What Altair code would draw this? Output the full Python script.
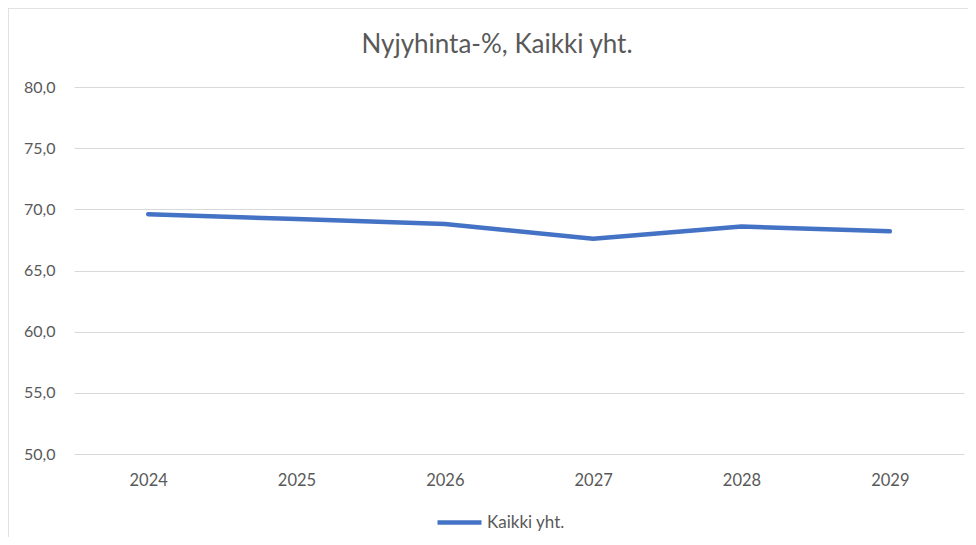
import altair as alt
import pandas as pd

years = ["2024", "2025", "2026", "2027", "2028", "2029"]
values = [69.6, 69.2, 68.8, 67.6, 68.6, 68.2]
series = ["Kaikki yht."] * len(years)
y_ticks = [50, 55, 60, 65, 70, 75, 80]
title_text = ["Nyjyhinta-%, Kaikki yht."]

df = pd.DataFrame({"vuosi": years, "arvo": values, "sarja": series})
df_title = pd.DataFrame({"teksti": title_text})

FONT = "Lato"
GREY = "#595959"

line = alt.Chart(df).mark_line(strokeWidth=4.5, strokeCap="round", strokeJoin="round").encode(
    x=alt.X("vuosi:N", sort=years, scale=alt.Scale(type="point", padding=0.5),
            axis=alt.Axis(title=None, labelAngle=0, grid=False, domain=False, ticks=False,
                          labelPadding=18, labelFontSize=16.5, labelColor=GREY, labelFont=FONT)),
    y=alt.Y("arvo:Q", scale=alt.Scale(domain=[50, 80], nice=False, zero=False),
            axis=alt.Axis(title=None, values=y_ticks, grid=True, gridColor="#d9d9d9", gridWidth=1,
                          domain=False, ticks=False, labelPadding=19, labelFontSize=16,
                          labelColor=GREY, labelFont=FONT,
                          labelExpr="replace(format(datum.value, '.1f'), '.', ',')")),
    color=alt.Color("sarja:N", scale=alt.Scale(range=["#4472C4"]),
                    legend=alt.Legend(title=None, orient="none", legendX=361, legendY=411,
                                      symbolType="stroke", symbolSize=1936, symbolStrokeWidth=4.5,
                                      labelFontSize=17, labelColor=GREY, labelFont=FONT,
                                      labelOffset=3)),
)

title = alt.Chart(df_title).mark_text(font=FONT, fontSize=26, color=GREY, align="center",
                                      baseline="alphabetic").encode(
    text="teksti:N", x=alt.value(423), y=alt.value(-34))

border_left = alt.Chart(df_title).mark_rule(color="#d9d9d9", strokeWidth=1.5).encode(
    x=alt.value(-66), y=alt.value(-79), y2=alt.value(460))
border_top = alt.Chart(df_title).mark_rule(color="#d9d9d9", strokeWidth=1.5).encode(
    x=alt.value(-66), x2=alt.value(900), y=alt.value(-79))

chart = alt.layer(border_left, border_top, title, line).properties(
    width=890, height=367,
    background="white",
    autosize=alt.AutoSizeParams(type="none"),
    padding={"left": 66, "top": 79, "right": 4, "bottom": 83},
).configure_view(strokeWidth=0, stroke="transparent")

chart.save("out.html", embed_options={"renderer": "svg", "actions": False})
